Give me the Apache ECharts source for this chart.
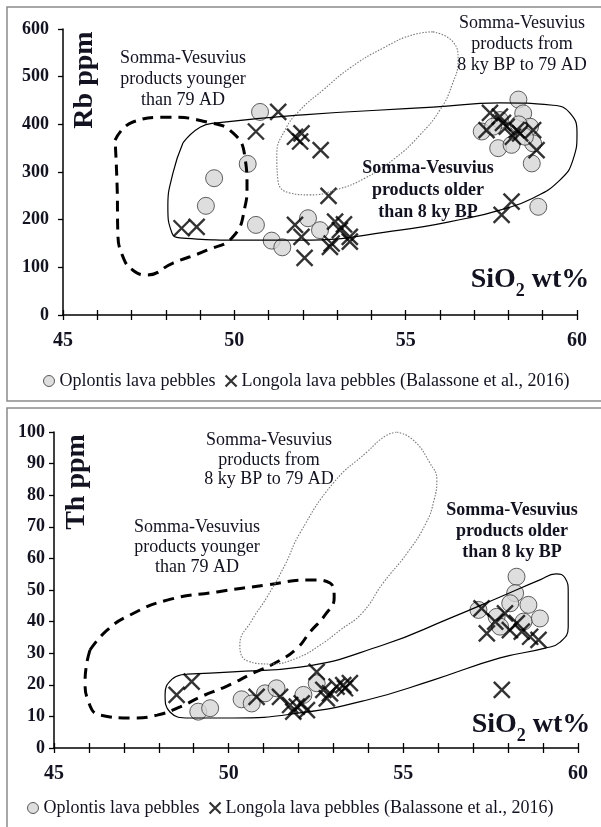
<!DOCTYPE html>
<html>
<head>
<meta charset="utf-8">
<script src="https://cdn.jsdelivr.net/npm/echarts@6/dist/echarts.min.js"></script>
<style>html,body{margin:0;padding:0;background:#fff}#c{width:601px;height:827px}</style>
</head>
<body>
<div id="c"></div>
<script>
// ---------- DATA ----------
const seriesNames = ['Oplontis lava pebbles', 'Longola lava pebbles (Balassone et al., 2016)'];
const xTicks = [45, 50, 55, 60];

// Top panel: Rb ppm vs SiO2
const rbOplontis = [[50.75,426],[50.39,317],[49.41,287],[49.17,229],[50.63,189],[51.09,156],[51.40,142],[52.15,203],[52.50,178],
  [58.29,452],[58.43,423],[57.22,385],[57.70,350],[58.09,357],[58.63,395],[58.72,360],[58.68,318],[58.87,227],[57.75,409],[58.48,374],[57.55,395],[58.30,400]];
const rbLongola = [[51.28,426],[50.63,385],[51.77,374],[51.96,381],[51.92,364],[52.52,346],[52.75,250],[48.46,182],[48.90,185],
  [51.77,189],[51.96,164],[52.05,120],[52.94,196],[53.08,178],[52.84,150],[53.37,164],[53.20,190],[53.37,154],[52.79,143],
  [57.80,210],[58.09,238],[57.46,424],[57.75,416],[57.84,403],[58.24,388],[58.34,381],[58.72,388],[58.82,346],[58.13,374],[57.36,388],[57.95,395]];
const rbYoungerField = [[46.52,367],[47.04,405],[48.03,415],[49.20,405],[49.96,382],[50.31,331],[50.37,268],[50.31,227],[49.96,164],
  [49.20,136],[48.21,109],[47.45,84],[47.04,94],[46.75,122],[46.60,172],[46.58,268],[46.52,367]];
const rbOlderField = [[48.50,361],[49.00,394],[49.49,403],[52.00,420],[55.80,436],[57.75,445],[59.30,440],[59.79,424],[60.00,382],
  [59.88,325],[59.50,283],[58.71,245],[57.75,220],[56.79,203],[54.83,178],[51.92,157],[50.46,157],[48.41,162],[48.18,172],
  [48.06,227],[48.21,298],[48.50,361]];
const rbMiddleField = [[55.80,594],[56.38,573],[56.53,535],[56.35,482],[56.00,430],[55.42,378],[54.69,329],[53.81,287],[52.94,262],
  [52.21,252],[51.62,256],[51.27,283],[51.24,336],[51.48,388],[51.92,430],[52.59,472],[53.37,518],[54.34,560],[55.27,589],[55.80,594]];

// Bottom panel: Th ppm vs SiO2
const thOplontis = [[49.13,11.5],[49.47,12.6],[50.37,15.4],[50.66,14.1],[51.04,17.3],[51.37,18.9],[52.14,16.8],[52.52,20.5],
  [58.24,54.2],[58.20,49.0],[57.15,43.7],[58.58,45.3],[58.91,41.0],[57.67,41.5],[58.06,45.8],[58.44,40.0],[57.77,38.4]];
const thLongola = [[48.51,16.8],[48.94,21.0],[50.80,16.2],[51.47,16.2],[51.76,13.6],[51.95,13.1],[52.09,14.1],[51.85,11.5],[52.52,24.1],
  [52.71,18.4],[52.90,17.3],[53.09,19.4],[53.33,18.9],[53.47,20.5],[52.81,15.7],[52.24,12.0],[53.28,19.9],[57.82,18.4],
  [57.24,44.2],[57.39,36.3],[57.91,42.6],[58.05,37.3],[58.25,39.5],[58.63,35.2],[58.87,34.2],[58.39,36.8],[57.63,40.0]];
const thYoungerField = [[46.03,31.0],[46.52,37.3],[47.18,42.1],[48.24,46.8],[49.67,49.4],[51.10,51.6],[52.33,53.2],[52.90,52.2],
  [53.02,47.5],[52.76,42.1],[52.33,36.7],[51.96,31.6],[51.38,27.2],[50.70,23.7],[49.95,19.6],[49.18,16.1],[48.61,13.0],[47.95,10.4],
  [47.26,9.5],[46.32,10.4],[45.97,15.2],[45.89,20.6],[45.92,25.6],[46.03,31.0]];
const thOlderField = [[48.81,23.4],[50.12,24.1],[52.04,25.6],[54.42,32.6],[56.34,41.1],[57.77,47.8],[58.91,53.2],[59.37,55.1],[59.63,53.8],
  [59.72,49.4],[59.72,38.3],[59.49,33.5],[59.06,31.6],[57.77,28.5],[55.85,21.5],[53.96,15.2],[52.04,11.1],[50.12,9.5],[48.89,9.5],[48.32,11.4],
  [48.18,16.8],[48.38,21.8],[48.81,23.4]];
const thMiddleField = [[54.82,100],[55.28,97.5],[55.76,90.2],[55.96,84.8],[55.88,78.5],[55.65,71.2],[55.11,61.7],[54.42,52.2],[53.82,42.7],
  [53.19,37.3],[52.62,32.6],[51.96,28.5],[51.18,26.6],[50.55,27.5],[50.32,32.6],[50.67,40.5],[51.10,47.8],[51.61,57.9],[52.04,68.0],
  [53.00,83.9],[53.96,93.7],[54.48,98.7],[54.82,100]];

// ---------- CHART ----------
const SERIF = '"Liberation Serif", "Times New Roman", serif';
const TXT = '#121220';
const crossPath = 'path://M0,0L10,10M10,0L0,10';
const circleStyle = {color:'#d6d6d6', borderColor:'#3a3a3a', borderWidth:1};
const crossStyle = {color:'rgba(0,0,0,0)', borderColor:'#000', borderWidth:2.4};

function xAxes(gi){
  return [
    {type:'value', gridIndex:gi, min:45, max:60, interval:1,
     axisLine:{lineStyle:{color:'#000', width:1.5}},
     axisTick:{length:5, lineStyle:{color:'#000', width:1.3}},
     splitLine:{show:false},
     axisLabel:{margin:16, color:TXT, fontFamily:SERIF, fontWeight:'bold', fontSize:20,
       formatter:v => xTicks.indexOf(v) >= 0 ? String(v) : ''}},
    {type:'value', gridIndex:gi, position:'bottom', min:45, max:60, interval:1,
     axisLine:{show:false}, axisTick:{inside:true, length:5, lineStyle:{color:'#000', width:1.3}},
     axisLabel:{show:false}, splitLine:{show:false}}
  ];
}
function yAxis(gi, max, interval, margin){
  return {type:'value', gridIndex:gi, min:0, max:max, interval:interval,
    axisLine:{show:true, lineStyle:{color:'#000', width:1.5}},
    axisTick:{show:true, length:5, lineStyle:{color:'#000', width:1.3}},
    splitLine:{show:false},
    axisLabel:{margin:margin, color:TXT, fontFamily:SERIF, fontWeight:'bold', fontSize:18}};
}
function fieldLine(xi, yi, data, style){
  return {type:'line', xAxisIndex:xi, yAxisIndex:yi, data:data, smooth:0.5, showSymbol:false, silent:true, z:4,
    lineStyle:style};
}
function scatterPair(xi, yi, circles, crosses){
  return [
    {name:seriesNames[0], type:'scatter', xAxisIndex:xi, yAxisIndex:yi, data:circles, symbol:'circle', symbolSize:17, itemStyle:circleStyle, z:2},
    {name:seriesNames[1], type:'scatter', xAxisIndex:xi, yAxisIndex:yi, data:crosses, symbol:crossPath, symbolSize:16, itemStyle:crossStyle, z:3}
  ];
}
function legend(left, top){
  return {left:left, top:top, itemWidth:11, itemHeight:11, itemGap:9, selectedMode:false,
    textStyle:{fontFamily:SERIF, fontSize:18, color:TXT},
    data:[{name:seriesNames[0], icon:'circle', itemStyle:{color:'#d6d6d6', borderColor:'#333', borderWidth:1}},
          {name:seriesNames[1], icon:crossPath, itemStyle:{color:'rgba(0,0,0,0)', borderColor:'#000', borderWidth:2.2}}]};
}
function label(x, y, text, bold, lh){
  return {type:'text', x:x, y:y, z:10, style:{text:text, textAlign:'center', textVerticalAlign:'top',
    font:(bold?'bold ':'') + '18px ' + SERIF, fill:TXT, lineHeight:lh}};
}
function axisTitle(x, y, text){
  return {type:'text', x:x, y:y, rotation:Math.PI/2, z:10, style:{text:text, textAlign:'center', textVerticalAlign:'middle',
    font:'bold 28px ' + SERIF, fill:TXT}};
}
function sio2(x, y){
  return {type:'text', x:x, y:y, z:10, style:{text:'{a|SiO}{b|2}{a| wt%}', textAlign:'center', textVerticalAlign:'middle',
    rich:{a:{fontFamily:SERIF, fontWeight:'bold', fontSize:28, fill:TXT, lineHeight:34, verticalAlign:'bottom'},
          b:{fontFamily:SERIF, fontWeight:'bold', fontSize:18, fill:TXT, lineHeight:34, verticalAlign:'bottom', padding:[0,0,-6,0]}}}};
}

const dashed = {color:'#000', width:3, type:[11,7]};
const solid = {color:'#000', width:1.2};
const dotted = {color:'#777', width:1.1, type:[1.5,1.5]};

const option = {
  animation:false,
  backgroundColor:'#fff',
  grid:[{left:63, top:29, width:514, height:286}, {left:54, top:432, width:524, height:316}],
  xAxis:[...xAxes(0), ...xAxes(1)],
  yAxis:[yAxis(0, 600, 100, 14), yAxis(1, 100, 10, 9)],
  legend:[legend(38, 367), legend(22, 794)],
  series:[
    ...scatterPair(0, 0, rbOplontis, rbLongola),
    fieldLine(0, 0, rbYoungerField, dashed),
    fieldLine(0, 0, rbOlderField, solid),
    fieldLine(0, 0, rbMiddleField, dotted),
    ...scatterPair(2, 1, thOplontis, thLongola),
    fieldLine(2, 1, thYoungerField, dashed),
    fieldLine(2, 1, thOlderField, solid),
    fieldLine(2, 1, thMiddleField, dotted)
  ],
  graphic:[
    {type:'rect', shape:{x:7, y:7, width:600, height:394}, style:{fill:'none', stroke:'#8a8a8a', lineWidth:1.5}, z:0},
    {type:'rect', shape:{x:7, y:408, width:600, height:430}, style:{fill:'none', stroke:'#8a8a8a', lineWidth:1.5}, z:0},
    label(183, 48, 'Somma-Vesuvius\nproducts younger\nthan 79 AD', false, 21),
    label(522, 13, 'Somma-Vesuvius\nproducts from\n8 ky BP to 79 AD', false, 21),
    label(428, 157, 'Somma-Vesuvius\nproducts older\nthan 8 ky BP', true, 22),
    label(269, 431, 'Somma-Vesuvius\nproducts from\n8 ky BP to 79 AD', false, 19.5),
    label(197, 517, 'Somma-Vesuvius\nproducts younger\nthan 79 AD', false, 20),
    label(512, 500, 'Somma-Vesuvius\nproducts older\nthan 8 ky BP', true, 21),
    axisTitle(85, 80, 'Rb ppm'),
    axisTitle(77, 482, 'Th ppm'),
    sio2(530, 277),
    sio2(531, 722)
  ]
};
echarts.init(document.getElementById('c'), null, {renderer:'canvas'}).setOption(option);
</script>
</body>
</html>
